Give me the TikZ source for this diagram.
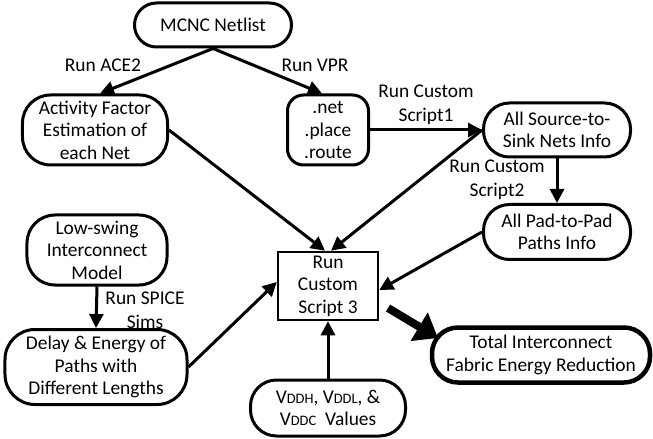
\documentclass[tikz,border=0pt]{standalone}
\usepackage{fontspec}
\setmainfont{Carlito}
\usetikzlibrary{arrows.meta}
\tikzset{
  blk/.style={draw, line width=3bp, rounded corners=22bp, align=center, inner sep=1bp,
    font=\fontsize{19.5}{22.5}\selectfont},
  lbl/.style={align=center, inner sep=0pt, font=\fontsize{19.5}{24}\selectfont},
  arr/.style={line width=3bp, -{Triangle[length=14bp,width=14bp]}},
}
\newcommand{\vsub}[1]{V{\fontsize{14.5}{14.5}\selectfont #1}}
\begin{document}
\begin{tikzpicture}[x=1bp,y=-1bp]
\useasboundingbox (0,0) rectangle (653,439);
% boxes
\node[blk, minimum width=157bp, minimum height=44bp] (mcnc) at (213,25) {MCNC Netlist};
\node[blk, minimum width=145bp, minimum height=70bp, rounded corners=28bp] (act) at (95,130) {Activity Factor\\Estimation of\\each Net};
\node[blk, minimum width=81bp, minimum height=70bp, rounded corners=16bp] (net) at (328,130) {.net\\.place\\.route};
\node[blk, minimum width=147bp, minimum height=54bp, rounded corners=26bp] (src) at (557,130) {All Source-to-\\Sink Nets Info};
\node[blk, minimum width=147bp, minimum height=55bp, rounded corners=26bp] (pad) at (557,232) {All Pad-to-Pad\\Paths Info};
\node[draw, line width=2.5bp, minimum width=100bp, minimum height=68bp, align=center, inner sep=1bp,
  font=\fontsize{19.5}{22.5}\selectfont] (scr) at (328,286) {Run\\Custom\\Script 3};
\node[blk, minimum width=140bp, minimum height=70bp, rounded corners=28bp] (low) at (97,250) {Low-swing\\Interconnect\\Model};
\node[blk, minimum width=182bp, minimum height=75bp, rounded corners=30bp] (dly) at (96,367) {Delay \& Energy of\\Paths with\\Different Lengths};
\node[blk, minimum width=155bp, minimum height=56bp, rounded corners=26bp] (vdd) at (328,408) {\vsub{DDH}, \vsub{DDL}, \&\\\vsub{DDC}\ \ Values};
\node[blk, line width=4.5bp, minimum width=218bp, minimum height=55bp, rounded corners=26bp] (tot) at (541,355) {Total Interconnect\\Fabric Energy Reduction};
% labels
\node[lbl] (l1) at (103,65) {Run ACE2};
\node[lbl] (l2) at (315,65) {Run VPR};
\node[lbl] (l3) at (426,105) {Run Custom\\Script1};
\node[lbl] (l4) at (497,180) {Run Custom\\Script2};
\node[lbl] (l5) at (145,310) {Run SPICE\\Sims};
% arrows
\draw[arr] (mcnc.south) -- ([xshift=5]act.north);
\draw[arr] (mcnc.south) -- ([xshift=-6]net.north);
\draw[arr] (net.east) -- (src.west);
\draw[arr] (src.south) -- (pad.north);
\draw[arr] (act.east) -- ([xshift=-3]scr.north);
\draw[arr] (src.west) -- ([xshift=3]scr.north);
\draw[arr] (pad.west) -- ([yshift=-4]scr.east);
\draw[arr] (dly.east) -- ([yshift=4]scr.west);
\draw[arr] (low.south) -- (dly.north);
\draw[arr] (vdd.north) -- (scr.south);
\coordinate (bigfrom) at (388,308);
\coordinate (bigto) at (438,338);
\draw[line width=8bp, -{Triangle[length=22bp,width=32bp]}] (bigfrom) -- (bigto);
\end{tikzpicture}
\end{document}
